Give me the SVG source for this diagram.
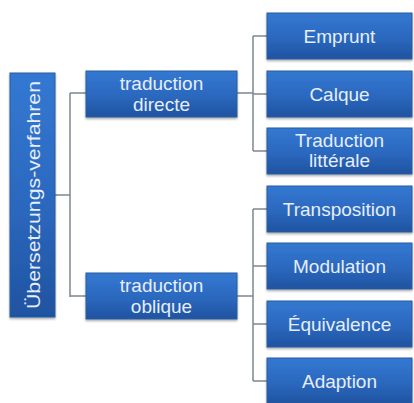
<svg xmlns="http://www.w3.org/2000/svg" width="414" height="403" viewBox="0 0 414 403">
  <defs>
    <linearGradient id="boxFill" x1="0" y1="0" x2="0" y2="1">
      <stop offset="0" stop-color="#3378D2"/>
      <stop offset="0.55" stop-color="#2B68BE"/>
      <stop offset="1" stop-color="#1F53A0"/>
    </linearGradient>
    <filter id="soft" x="-10%" y="-10%" width="120%" height="130%">
      <feDropShadow dx="0" dy="1.5" stdDeviation="1.2" flood-color="#000" flood-opacity="0.35"/>
    </filter>
  </defs>
  <style>
    .box { fill: url(#boxFill); stroke: #2A5C9F; stroke-width: 1; filter: url(#soft); }
    .lbl { font-family: "Liberation Sans", Arial, sans-serif; font-size: 19px; fill: #E6EEF9; text-anchor: middle; }
    .conn { fill: none; stroke: #7E8791; stroke-width: 1.5; }
  </style>
  <rect width="414" height="403" fill="#FFFFFF"/>

  <g id="connectors">
    <!-- root to second level -->
    <path class="conn" d="M55,195 H70 M70,93 V297 M70,93 H86 M70,296 H86"/>
    <!-- traduction directe to its children -->
    <path class="conn" d="M237,93 H253 M253,36 V151 M253,36 H267 M253,94 H267 M253,151 H267"/>
    <!-- traduction oblique to its children -->
    <path class="conn" d="M237,296 H253 M253,209 V381 M253,209 H267 M253,266 H267 M253,324 H267 M253,381 H267"/>
  </g>

  <g id="root">
    <rect class="box" x="10" y="73" width="45" height="244"/>
    <text class="lbl" transform="translate(39.5,195) rotate(-90)" font-size="20" textLength="228" lengthAdjust="spacingAndGlyphs">Übersetzungs-verfahren</text>
  </g>

  <g id="directe">
    <rect class="box" x="86" y="71" width="151" height="46"/>
    <text class="lbl" x="161.5" y="90">traduction</text>
    <text class="lbl" x="161.5" y="111">directe</text>
  </g>

  <g id="oblique">
    <rect class="box" x="86" y="273" width="151" height="46"/>
    <text class="lbl" x="161.5" y="292">traduction</text>
    <text class="lbl" x="161.5" y="313">oblique</text>
  </g>

  <g id="emprunt">
    <rect class="box" x="267" y="13" width="145" height="46"/>
    <text class="lbl" x="339.5" y="43">Emprunt</text>
  </g>

  <g id="calque">
    <rect class="box" x="267" y="71" width="145" height="46"/>
    <text class="lbl" x="339.5" y="101">Calque</text>
  </g>

  <g id="litterale">
    <rect class="box" x="267" y="128" width="145" height="46"/>
    <text class="lbl" x="339.5" y="147">Traduction</text>
    <text class="lbl" x="339.5" y="167">littérale</text>
  </g>

  <g id="transposition">
    <rect class="box" x="267" y="186" width="145" height="46"/>
    <text class="lbl" x="339.5" y="216">Transposition</text>
  </g>

  <g id="modulation">
    <rect class="box" x="267" y="243" width="145" height="46"/>
    <text class="lbl" x="339.5" y="273">Modulation</text>
  </g>

  <g id="equivalence">
    <rect class="box" x="267" y="301" width="145" height="46"/>
    <text class="lbl" x="339.5" y="331">Équivalence</text>
  </g>

  <g id="adaption">
    <rect class="box" x="267" y="358" width="145" height="46"/>
    <text class="lbl" x="339.5" y="388">Adaption</text>
  </g>
</svg>
